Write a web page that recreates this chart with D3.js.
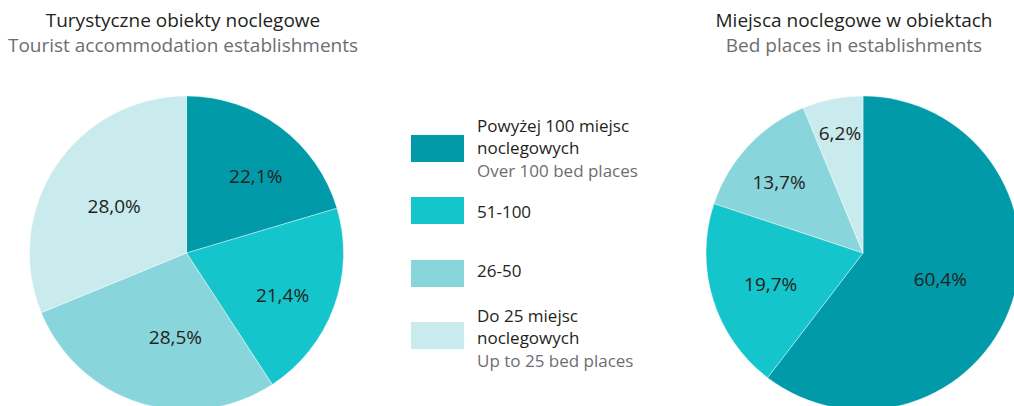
<!DOCTYPE html>
<html><head><meta charset="utf-8">
<script src="https://cdn.jsdelivr.net/npm/d3@7"></script>
<style>
html,body{margin:0;padding:0;background:#fff;}
svg{display:block;font-family:"Open Sans",sans-serif;}
</style></head>
<body>
<svg id="c" width="1014" height="406"></svg>
<script>
// ---- data ----
const categories = ["Powyżej 100 miejsc noclegowych", "51-100", "26-50", "Do 25 miejsc noclegowych"];
const categoriesEn = ["Over 100 bed places", "", "", "Up to 25 bed places"];
// printed labels
const establishmentsLabels = [22.1, 21.4, 28.5, 28.0];
// slice sizes as drawn in the picture (measured from slice angles)
const establishmentsSlices = [20.4, 20.4, 28.0, 31.2];
const bedPlacesLabels = [60.4, 19.7, 13.7, 6.2];
const bedPlacesSlices = [60.4, 19.7, 13.7, 6.2];
const leftTitle = ["Turystyczne obiekty noclegowe", "Tourist accommodation establishments"];
const rightTitle = ["Miejsca noclegowe w obiektach", "Bed places in establishments"];

// ---- style ----
const colors = ["#009aa9", "#14c5cb", "#88d6db", "#c9ebee"];
const svg = d3.select("#c");
const R = 157;
const color = d3.scaleOrdinal().domain(categories).range(colors);
const fmt = v => d3.format(".1f")(v).replace(".", ",") + "%";

function drawPie(cx, cy, values, labels, labelR, labelNudge) {
  const data = categories.map((c, i) => ({cat: c, value: values[i], label: labels[i]}));
  const pie = d3.pie().value(d => d.value).sort(null);
  const arcs = pie(data);
  const arc = d3.arc().innerRadius(0).outerRadius(R);
  const g = svg.append("g").attr("transform", `translate(${cx},${cy})`);
  g.selectAll("path").data(arcs).join("path")
    .attr("d", arc).attr("fill", d => color(d.data.cat))
    .attr("stroke", "#fff").attr("stroke-width", 0.4);
  g.selectAll("text").data(arcs).join("text")
    .attr("transform", (d, i) => {
      const a = (d.startAngle + d.endAngle) / 2 + labelNudge[i] * Math.PI / 180;
      const r = labelR[i] * R;
      return `translate(${r * Math.sin(a)},${-r * Math.cos(a)})`;
    })
    .attr("text-anchor", "middle").attr("dy", "0.36em")
    .attr("font-size", 19).attr("fill", "#231f20")
    .text(d => fmt(d.data.label));
}

drawPie(186.5, 253, establishmentsSlices, establishmentsLabels, [0.66, 0.667, 0.54, 0.55], [5.2, 3.4, -9.8, -0.7]);
drawPie(863, 253, bedPlacesSlices, bedPlacesLabels, [0.52, 0.62, 0.70, 0.78], [0, -1.3, -2.8, 0.3]);

// titles
function title(x, lines) {
  svg.append("text").attr("x", x).attr("y", 27).attr("text-anchor", "middle")
    .attr("font-size", 19).attr("fill", "#231f20").text(lines[0]);
  svg.append("text").attr("x", x).attr("y", 52).attr("text-anchor", "middle")
    .attr("font-size", 19).attr("fill", "#6d6e71").text(lines[1]);
}
title(183, leftTitle);
title(854, rightTitle);

// legend
const legendY = [135, 197, 260, 322];
const legendLines = [
  [["Powyżej 100 miejsc", 132, "#231f20"], ["noclegowych", 154, "#231f20"], [categoriesEn[0], 177, "#6d6e71"]],
  [[categories[1], 218, "#231f20"]],
  [[categories[2], 277, "#231f20"]],
  [["Do 25 miejsc", 322, "#231f20"], ["noclegowych", 344, "#231f20"], [categoriesEn[3], 367, "#6d6e71"]]
];
const lg = svg.append("g");
lg.selectAll("rect").data(categories).join("rect")
  .attr("x", 411).attr("y", (d, i) => legendY[i]).attr("width", 53).attr("height", 27)
  .attr("fill", d => color(d));
legendLines.forEach(lines => {
  lines.forEach(([t, y, c]) => {
    lg.append("text").attr("x", 477).attr("y", y).attr("font-size", 17)
      .attr("fill", c).text(t);
  });
});
</script>
</body></html>
